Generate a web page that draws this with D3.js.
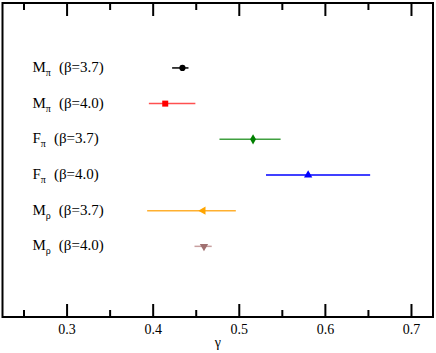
<!DOCTYPE html>
<html lang="en">
<head>
<meta charset="UTF-8">
<title>gamma</title>
<script src="https://d3js.org/d3.v7.min.js"></script>
<style>
  body { margin: 0; background: #fff; }
  text { font-family: "Liberation Serif", "Times New Roman", serif; }
</style>
</head>
<body>
<script>
// data
var names   = ["M", "M", "F", "F", "M", "M"];
var subs    = ["\u03c0", "\u03c0", "\u03c0", "\u03c0", "\u03c1", "\u03c1"];
var betas   = ["3.7", "4.0", "3.7", "4.0", "3.7", "4.0"];
var gammas  = [0.434, 0.414, 0.516, 0.580, 0.458, 0.459];
var errLo   = [0.422, 0.395, 0.477, 0.531, 0.393, 0.448];
var errHi   = [0.441, 0.449, 0.548, 0.652, 0.496, 0.468];
var colors  = ["#000000", "#ff0000", "#008000", "#0000ff", "#ffa500", "#a07070"];
var barCols = ["#000000", "#ff5050", "#40a040", "#0000ff", "#ffb030", "#c8a0a0"];
var shapes  = ["circle", "square", "diamond", "triangleUp", "triangleLeft", "triangleDown"];
var xTicks  = [0.3, 0.4, 0.5, 0.6, 0.7];

var W = 436, H = 353;
var margin = {top: 3, right: 3, bottom: 36, left: 2.5};
var width = W - margin.left - margin.right,
    height = H - margin.top - margin.bottom;

var svg = d3.select("body").append("svg")
    .attr("width", W).attr("height", H);
var g = svg.append("g")
    .attr("transform", "translate(" + margin.left + "," + margin.top + ")");

var x = d3.scaleLinear().domain([0.225, 0.725]).range([0, width]);
var y = d3.scaleLinear().domain([0, 8.8]).range([0, height]);

// frame
g.append("rect").attr("width", width).attr("height", height)
  .attr("fill", "none").attr("stroke", "#000").attr("stroke-width", 2);

// ticks (major + minor) at bottom and top
var minor = d3.range(0.25, 0.72, 0.1);
[[xTicks, 13], [minor, 7]].forEach(function(t) {
  g.selectAll(null).data(t[0]).enter().append("line")
    .attr("x1", d => x(d)).attr("x2", d => x(d))
    .attr("y1", height).attr("y2", height - t[1])
    .attr("stroke", "#000").attr("stroke-width", 2);
  g.selectAll(null).data(t[0]).enter().append("line")
    .attr("x1", d => x(d)).attr("x2", d => x(d))
    .attr("y1", 0).attr("y2", t[1])
    .attr("stroke", "#000").attr("stroke-width", 2);
});
g.selectAll(null).data(xTicks).enter().append("text")
  .attr("x", d => x(d)).attr("y", height + 17)
  .attr("text-anchor", "middle").attr("font-size", 14)
  .text(d => d3.format(".1f")(d));
g.append("text").attr("x", x(0.475)).attr("y", height + 30)
  .attr("text-anchor", "middle").attr("font-size", 14).text("\u03b3");

var sym = {
  circle: d3.symbol().type(d3.symbolCircle).size(30),
  square: d3.symbol().type(d3.symbolSquare).size(36),
  diamond: d3.symbol().type(d3.symbolDiamond).size(30),
  triangleUp: d3.symbol().type(d3.symbolTriangle).size(30),
  triangleLeft: d3.symbol().type(d3.symbolTriangle).size(30),
  triangleDown: d3.symbol().type(d3.symbolTriangle).size(30)
};
var rot = {triangleLeft: -90, triangleDown: 180};

gammas.forEach(function(v, i) {
  var yy = y(i + 1.82);
  g.append("line")
    .attr("x1", x(errLo[i])).attr("x2", x(errHi[i]))
    .attr("y1", yy).attr("y2", yy)
    .attr("stroke", barCols[i]).attr("stroke-width", 1.5);
  g.append("path").attr("d", sym[shapes[i]]())
    .attr("transform", "translate(" + x(v) + "," + yy + ") rotate(" + (rot[shapes[i]] || 0) + ")")
    .attr("fill", colors[i]);
  var t = g.append("text").attr("x", 30).attr("y", yy + 4).attr("font-size", 15);
  t.append("tspan").text(names[i]);
  t.append("tspan").attr("font-size", 10).attr("dy", 4).text(subs[i]);
  t.append("tspan").attr("dy", -4).attr("dx", 8).text("(\u03b2=" + betas[i] + ")");
});
</script>
</body>
</html>
